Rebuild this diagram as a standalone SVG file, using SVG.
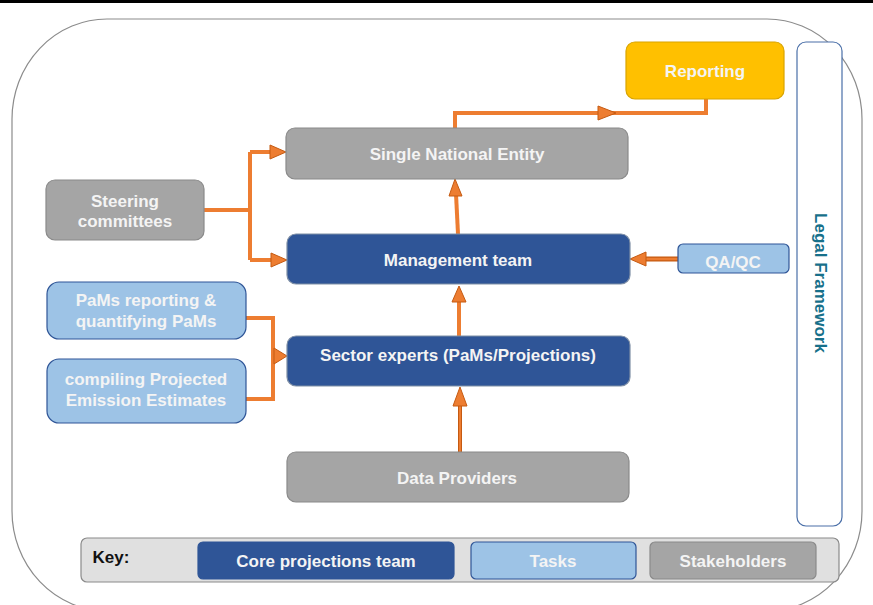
<svg xmlns="http://www.w3.org/2000/svg" width="873" height="605" viewBox="0 0 873 605">
<style>
text{font-family:"Liberation Sans",Arial,sans-serif;font-weight:bold;font-size:17px;text-anchor:middle;dominant-baseline:central;fill:#F4F4F4}
.gray{fill:#A5A5A5;stroke:#8A8A8A;stroke-width:1.2}
.dark{fill:#2F5597;stroke:#7F8FA6;stroke-width:1.2}
.light{fill:#9DC3E6;stroke:#2F5597;stroke-width:1.2}
.conn{fill:none;stroke:#ED7D31;stroke-width:4;stroke-linejoin:miter}
.ah{fill:#ED7D31;stroke:#C55A11;stroke-width:1}
</style>
<rect x="0" y="0" width="873" height="3" fill="#000"/>
<rect x="12" y="19" width="850" height="592" rx="95" ry="100" fill="none" stroke="#8C8C8C" stroke-width="1.2"/>

<g id="connectors">
  <path class="conn" d="M204,210 H250 M250,152 V260 M250,152 H272 M250,260 H273"/>
  <polygon class="ah" points="270,145 286,152 270,159"/>
  <polygon class="ah" points="271,253 287,260 271,267"/>
  <path class="conn" d="M458,234 L456,194"/>
  <polygon class="ah" points="449,196 455,179 462,196"/>
  <path class="conn" d="M455,128 V113 H706 V99"/>
  <polygon class="ah" points="598,106 616,113 598,120"/>
  <path d="M678,259 H645" fill="none" stroke="#C55A11" stroke-width="5"/>
  <path d="M678,259 H645" fill="none" stroke="#ED7D31" stroke-width="2.5"/>
  <polygon class="ah" points="646,252 630,259 646,266"/>
  <path class="conn" d="M459,336 V300"/>
  <polygon class="ah" points="452,302 459,286 466,302"/>
  <path class="conn" d="M246,318 H273 V399 H246"/>
  <polygon class="ah" points="274,348 287,356 274,364"/>
  <path d="M460,452 V404" fill="none" stroke="#C55A11" stroke-width="4"/>
  <path d="M460,452 V404" fill="none" stroke="#ED7D31" stroke-width="2"/>
  <polygon class="ah" points="453,406 460,387 467,406"/>
</g>

<g id="reporting">
  <rect x="626" y="42" width="158" height="57" rx="9" fill="#FFC000" stroke="#D9A400" stroke-width="1.2"/>
  <text x="705" y="71">Reporting</text>
</g>
<g id="legal-framework">
  <rect x="797" y="42" width="45" height="484" rx="9" fill="#fff" stroke="#4A6FA8" stroke-width="1.2"/>
  <text x="820" y="283" transform="rotate(90 820 283)" style="fill:#17708A">Legal Framework</text>
</g>
<g id="single-national-entity">
  <rect class="gray" x="286" y="128" width="342" height="51" rx="9"/>
  <text x="457" y="154">Single National Entity</text>
</g>
<g id="steering-committees">
  <rect class="gray" x="46" y="180" width="158" height="60" rx="9"/>
  <text x="125" y="201">Steering</text>
  <text x="125" y="221">committees</text>
</g>
<g id="management-team">
  <rect class="dark" x="287" y="234" width="343" height="50" rx="9"/>
  <text x="458" y="260">Management team</text>
</g>
<g id="qa-qc">
  <rect class="light" x="678" y="244" width="111" height="29" rx="5"/>
  <text x="733" y="262">QA/QC</text>
</g>
<g id="pams-reporting">
  <rect class="light" x="47" y="282" width="199" height="57" rx="12"/>
  <text x="146" y="300">PaMs reporting &amp;</text>
  <text x="146" y="321">quantifying PaMs</text>
</g>
<g id="compiling-estimates">
  <rect class="light" x="47" y="359" width="199" height="64" rx="12"/>
  <text x="146" y="379">compiling Projected</text>
  <text x="146" y="400">Emission Estimates</text>
</g>
<g id="sector-experts">
  <rect class="dark" x="287" y="336" width="343" height="50" rx="9"/>
  <text x="458" y="355">Sector experts (PaMs/Projections)</text>
</g>
<g id="data-providers">
  <rect class="gray" x="287" y="452" width="342" height="50" rx="9"/>
  <text x="457" y="478">Data Providers</text>
</g>
<g id="key">
  <rect x="81" y="538" width="758" height="44" rx="6" fill="#E0E0E0" stroke="#8A8A8A" stroke-width="1.2"/>
  <text x="111" y="557" style="fill:#111">Key:</text>
  <rect class="dark" x="198" y="542" width="256" height="37" rx="5" style="stroke:#2F5597"/>
  <text x="326" y="561">Core projections team</text>
  <rect class="light" x="471" y="542" width="165" height="37" rx="5"/>
  <text x="553" y="561">Tasks</text>
  <rect class="gray" x="650" y="542" width="166" height="37" rx="5"/>
  <text x="733" y="561">Stakeholders</text>
</g>
</svg>
